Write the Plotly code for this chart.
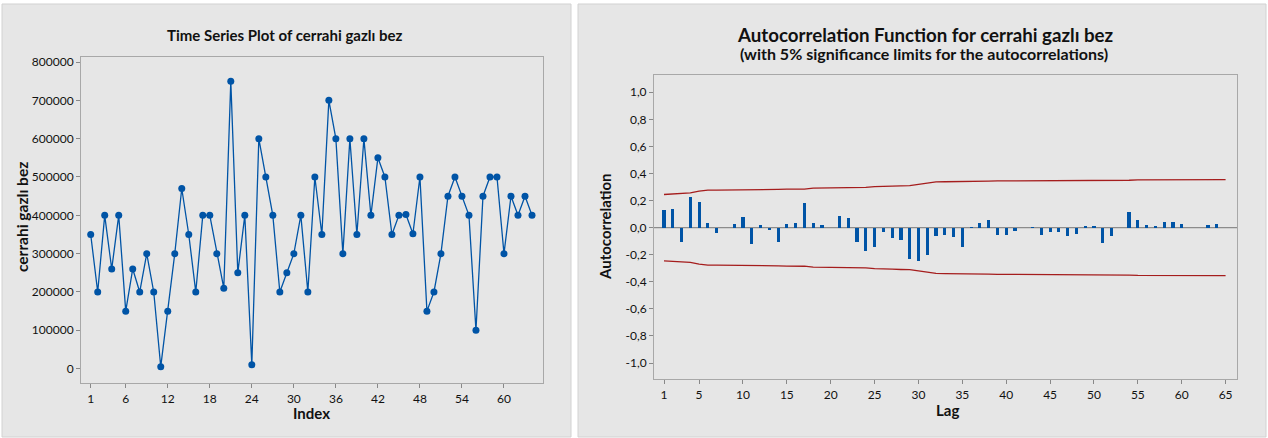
import plotly.graph_objects as go

W, H = 1268, 438

# ---- data ----
index = list(range(1, 65))
values = [350000, 200000, 400000, 260000, 400000, 150000, 260000, 200000, 300000, 200000,
          5000, 150000, 300000, 470000, 350000, 200000, 400000, 400000, 300000, 210000,
          750000, 250000, 400000, 10000, 600000, 500000, 400000, 200000, 250000, 300000,
          400000, 200000, 500000, 350000, 700000, 600000, 300000, 600000, 350000, 600000,
          400000, 550000, 500000, 350000, 400000, 402000, 352000, 500000, 150000, 200000,
          300000, 450000, 500000, 450000, 400000, 100000, 450000, 500000, 500000, 300000,
          450000, 400000, 450000, 400000]

lags = list(range(1, 66))
acf = [0.135, 0.142, -0.103, 0.228, 0.19, 0.035, -0.037, 0.0, 0.03, 0.08,
       -0.122, 0.022, -0.015, -0.103, 0.03, 0.037, 0.185, 0.039, 0.022, 0.0,
       0.088, 0.074, -0.106, -0.172, -0.143, -0.032, -0.074, -0.088, -0.226, -0.246,
       -0.202, -0.059, -0.052, -0.066, -0.143, 0.003, 0.039, 0.059, -0.054, -0.054,
       -0.02, 0.0, 0.007, -0.054, -0.027, -0.027, -0.062, -0.047, 0.01, 0.01,
       -0.113, -0.062, 0.0, 0.12, 0.061, 0.022, 0.01, 0.046, 0.046, 0.027,
       0.0, 0.0, 0.022, 0.027, 0.0]
upper_limit = [0.245, 0.249, 0.254, 0.257, 0.269, 0.277, 0.277, 0.277, 0.277, 0.277,
               0.279, 0.282, 0.282, 0.282, 0.284, 0.285, 0.285, 0.292, 0.292, 0.292,
               0.292, 0.294, 0.295, 0.297, 0.303, 0.307, 0.307, 0.309, 0.310, 0.320,
               0.331, 0.338, 0.339, 0.339, 0.340, 0.344, 0.344, 0.344, 0.345, 0.345,
               0.346, 0.346, 0.346, 0.346, 0.346, 0.346, 0.346, 0.347, 0.347, 0.347,
               0.347, 0.350, 0.350, 0.350, 0.353, 0.353, 0.353, 0.354, 0.354, 0.354,
               0.354, 0.354, 0.354, 0.355, 0.355]
lower_limit = [-u for u in upper_limit]

ts_xticks = [1, 6, 12, 18, 24, 30, 36, 42, 48, 54, 60]
ts_yticks = [0, 100000, 200000, 300000, 400000, 500000, 600000, 700000, 800000]
acf_xticks = [1, 5, 10, 15, 20, 25, 30, 35, 40, 45, 50, 55, 60, 65]
acf_yticks = [-1.0, -0.8, -0.6, -0.4, -0.2, 0.0, 0.2, 0.4, 0.6, 0.8, 1.0]
acf_yticktext = [f"{v:.1f}".replace(".", ",") for v in acf_yticks]

# ---- styles ----
FONT = "Lato"
BLUE = "#0054A6"
RED = "#A51D1D"
PANEL = "#E6E6E6"
PANEL_LINE = "#D2D2D2"
FRAME = "#A8A8A8"
TXT = "#111111"

def px(x):
    return x / W

def py(y):
    return 1 - y / H

fig = go.Figure()

fig.add_trace(go.Scatter(x=index, y=values, mode="lines+markers",
                         line=dict(color=BLUE, width=1.3),
                         marker=dict(color=BLUE, size=7),
                         xaxis="x", yaxis="y", showlegend=False))

fig.add_trace(go.Bar(x=lags, y=acf, width=0.36, marker=dict(color=BLUE, line=dict(width=0)),
                     xaxis="x2", yaxis="y2", showlegend=False))
fig.add_trace(go.Scatter(x=lags, y=upper_limit, mode="lines", line=dict(color=RED, width=1.3),
                         xaxis="x2", yaxis="y2", showlegend=False))
fig.add_trace(go.Scatter(x=lags, y=lower_limit, mode="lines", line=dict(color=RED, width=1.3),
                         xaxis="x2", yaxis="y2", showlegend=False))

axis_common = dict(showgrid=False, zeroline=False, showline=True, linecolor=FRAME, linewidth=1,
                   mirror=True, ticks="outside", ticklen=4, tickcolor="#888888",
                   tickfont=dict(family=FONT, size=12, color=TXT))

fig.update_layout(
    width=W, height=H,
    margin=dict(l=0, r=0, t=0, b=0),
    paper_bgcolor="white", plot_bgcolor="white",
    bargap=0,
    xaxis=dict(axis_common, domain=[px(81), px(543)], range=[-0.385, 65.57],
               tickmode="array", tickvals=ts_xticks, anchor="y"),
    yaxis=dict(axis_common, domain=[py(383), py(55)], range=[-38200, 813800],
               tickmode="array", tickvals=ts_yticks, tickformat="d", anchor="x"),
    xaxis2=dict(axis_common, domain=[px(654), px(1237)], range=[-0.14, 66.3],
                tickmode="array", tickvals=acf_xticks, anchor="y2"),
    yaxis2=dict(axis_common, domain=[py(379), py(73)], range=[-1.12, 1.13],
                tickmode="array", tickvals=acf_yticks, ticktext=acf_yticktext, anchor="x2"),
    shapes=[
        dict(type="rect", xref="paper", yref="paper", x0=px(2), x1=px(571), y0=py(437), y1=py(2),
             fillcolor=PANEL, line=dict(color=PANEL_LINE, width=1), layer="below"),
        dict(type="rect", xref="paper", yref="paper", x0=px(578), x1=px(1266), y0=py(437), y1=py(2),
             fillcolor=PANEL, line=dict(color=PANEL_LINE, width=1), layer="below"),
        dict(type="line", xref="x2", yref="y2", x0=-0.14, x1=66.3, y0=0, y1=0,
             line=dict(color="#8C8C8C", width=1.2), layer="below"),
    ],
    annotations=[
        dict(text="<b>Time Series Plot of cerrahi gazlı bez</b>", xref="paper", yref="paper",
             x=px(285), y=py(33), showarrow=False, xanchor="center", yanchor="middle",
             font=dict(family=FONT, size=15, color=TXT)),
        dict(text="<b>Autocorrelation Function for cerrahi gazlı bez</b>", xref="paper", yref="paper",
             x=px(925), y=py(33), showarrow=False, xanchor="center", yanchor="middle",
             font=dict(family=FONT, size=18.7, color=TXT)),
        dict(text="<b>(with 5% significance limits for the autocorrelations)</b>", xref="paper", yref="paper",
             x=px(924), y=py(52), showarrow=False, xanchor="center", yanchor="middle",
             font=dict(family=FONT, size=16, color=TXT)),
        dict(text="<b>cerrahi gazlı bez</b>", xref="paper", yref="paper",
             x=px(22), y=py(216), showarrow=False, xanchor="center", yanchor="middle", textangle=-90,
             font=dict(family=FONT, size=15.5, color=TXT)),
        dict(text="<b>Index</b>", xref="paper", yref="paper",
             x=px(311), y=py(413), showarrow=False, xanchor="center", yanchor="middle",
             font=dict(family=FONT, size=15, color=TXT)),
        dict(text="<b>Autocorrelation</b>", xref="paper", yref="paper",
             x=px(605), y=py(226), showarrow=False, xanchor="center", yanchor="middle", textangle=-90,
             font=dict(family=FONT, size=15, color=TXT)),
        dict(text="<b>Lag</b>", xref="paper", yref="paper",
             x=px(947), y=py(410), showarrow=False, xanchor="center", yanchor="middle",
             font=dict(family=FONT, size=15, color=TXT)),
    ],
)

fig.write_html("out.html", config={"displayModeBar": False},
               post_script="document.body.style.margin='0';")
